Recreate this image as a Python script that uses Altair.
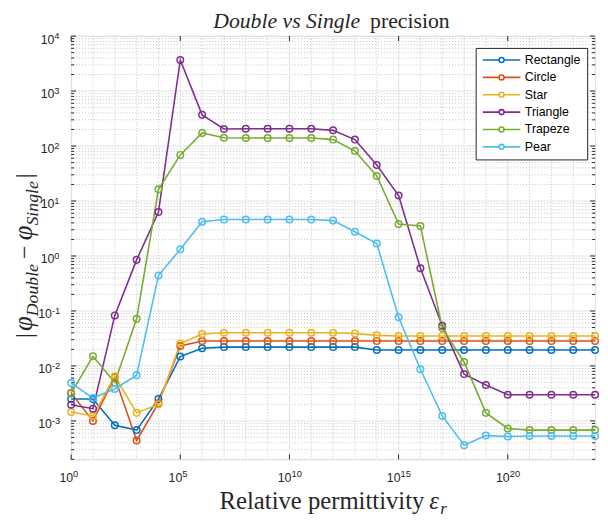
import altair as alt
import pandas as pd

# ---------------- data ----------------
exponents = list(range(25))  # epsilon_r = 10^0 ... 10^24

rectangle = [2.5e-3, 2.5e-3, 8.3e-4, 6.8e-4, 2.5e-3, 0.0148, 0.021, 0.022, 0.022, 0.022,
             0.022, 0.022, 0.022, 0.022, 0.0195, 0.0195, 0.0195, 0.0195, 0.0195, 0.0195,
             0.0195, 0.0195, 0.0195, 0.0195, 0.0195]
circle = [3.2e-3, 1.0e-3, 6.2e-3, 4.4e-4, 2.1e-3, 0.023, 0.0285, 0.0285, 0.0285, 0.0285,
          0.0285, 0.0285, 0.0285, 0.0285, 0.0285, 0.0285, 0.0285, 0.0285, 0.0285, 0.0285,
          0.0285, 0.0285, 0.0285, 0.0285, 0.0285]
star = [1.45e-3, 1.23e-3, 6.5e-3, 1.4e-3, 2.0e-3, 0.0256, 0.038, 0.040, 0.040, 0.040,
        0.040, 0.040, 0.040, 0.039, 0.036, 0.035, 0.035, 0.035, 0.035, 0.035,
        0.035, 0.035, 0.035, 0.035, 0.035]
triangle = [1.96e-3, 1.67e-3, 0.083, 0.85, 6.3, 3680, 369, 204, 207, 207,
            207, 207, 193, 131, 45, 12.6, 0.60, 0.054, 7.1e-3, 4.5e-3,
            3.0e-3, 3.0e-3, 3.0e-3, 3.0e-3, 3.0e-3]
trapeze = [3.2e-3, 0.015, 5.0e-3, 0.072, 16.3, 69, 173, 142, 140, 140,
           140, 140, 131, 81, 28.5, 3.8, 3.5, 0.049, 0.0118, 1.4e-3,
           7.3e-4, 6.8e-4, 6.8e-4, 6.8e-4, 6.8e-4]
pear = [4.9e-3, 2.6e-3, 3.8e-3, 6.8e-3, 0.44, 1.33, 4.2, 4.6, 4.6, 4.6,
        4.6, 4.6, 4.4, 2.76, 1.68, 0.077, 8.7e-3, 1.23e-3, 3.6e-4, 5.4e-4,
        5.2e-4, 5.3e-4, 5.3e-4, 5.3e-4, 5.3e-4]

shapes = ["Rectangle", "Circle", "Star", "Triangle", "Trapeze", "Pear"]
colors = ["#0072BD", "#D95319", "#EDB120", "#7E2F8E", "#77AC30", "#4DBEEE"]
series = [rectangle, circle, star, triangle, trapeze, pear]

x_major_exp = [0, 5, 10, 15, 20]
y_major_exp = [-3, -2, -1, 0, 1, 2, 3, 4]

rows = []
for name, vals in zip(shapes, series):
    for e, v in zip(exponents, vals):
        rows.append({"eps": 10.0 ** e, "val": v, "shape": name})
df = pd.DataFrame(rows)

# ---------------- layout ----------------
W, H = 531, 429
FRAME = "#262626"
xs = alt.Scale(type="log", domain=[1, 1e24], nice=False)
ys = alt.Scale(type="log", domain=[10 ** -3.7, 1e4], nice=False)

x_minor = [10.0 ** e for e in range(1, 24) if e % 5 != 0]
x_major = [10.0 ** e for e in x_major_exp]
y_major = [10.0 ** e for e in y_major_exp]
y_minor = [m * 10.0 ** e for e in range(-4, 4) for m in range(2, 10)
           if 10 ** -3.7 < m * 10.0 ** e < 1e4]


def hrules(vals, color, width=1.0, dash=None, x0=None, x1=None):
    kw = dict(color=color, strokeWidth=width)
    if dash:
        kw["strokeDash"] = dash
    enc = dict(y=alt.Y("v:Q", scale=ys, axis=None))
    if x0 is not None:
        enc["x"] = alt.value(x0)
        enc["x2"] = alt.value(x1)
    return alt.Chart(pd.DataFrame({"v": vals})).mark_rule(**kw).encode(**enc)


def vrules(vals, color, width=1.0, dash=None, y0=None, y1=None):
    kw = dict(color=color, strokeWidth=width)
    if dash:
        kw["strokeDash"] = dash
    enc = dict(x=alt.X("v:Q", scale=xs, axis=None))
    if y0 is not None:
        enc["y"] = alt.value(y0)
        enc["y2"] = alt.value(y1)
    return alt.Chart(pd.DataFrame({"v": vals})).mark_rule(**kw).encode(**enc)


one = pd.DataFrame({"a": [0]})


def txt(s, x, y, size, italic=False, angle=0, align="left", font="Liberation Serif"):
    kw = dict(text=s, font=font, fontSize=size, align=align, baseline="alphabetic",
              color="#262626")
    if italic:
        kw["fontStyle"] = "italic"
    if angle:
        kw["angle"] = angle
    return alt.Chart(one).mark_text(**kw).encode(x=alt.value(x), y=alt.value(y))


SANS = "Liberation Sans"


def x_tick_labels():
    d = pd.DataFrame({"v": x_major, "e": [str(e) for e in x_major_exp]})
    base = alt.Chart(d).mark_text(text="10", font=SANS, fontSize=12.5, align="right",
                                  baseline="alphabetic", dx=2, color=FRAME).encode(
        x=alt.X("v:Q", scale=xs, axis=None), y=alt.value(H + 23))
    sup = alt.Chart(d).mark_text(font=SANS, fontSize=9.5, align="left",
                                 baseline="alphabetic", dx=2, color=FRAME).encode(
        x=alt.X("v:Q", scale=xs, axis=None), y=alt.value(H + 18), text="e:N")
    return [base, sup]


def y_tick_labels(exps, split):
    d = pd.DataFrame({"v": [10.0 ** e for e in exps], "e": [str(e) for e in exps]})
    base = alt.Chart(d).mark_text(text="10", font=SANS, fontSize=12.5, align="right",
                                  baseline="alphabetic", dy=7.5, color=FRAME).encode(
        y=alt.Y("v:Q", scale=ys, axis=None), x=alt.value(split))
    sup = alt.Chart(d).mark_text(font=SANS, fontSize=9.5, align="left",
                                 baseline="alphabetic", dy=3, color=FRAME).encode(
        y=alt.Y("v:Q", scale=ys, axis=None), x=alt.value(split), text="e:N")
    return [base, sup]


grid_col = "#e2e2e2"
minor_col = "#c4c4c4"

layers = [
    hrules(y_minor, minor_col, 1, [1, 2]),
    vrules(x_minor, minor_col, 1, [1, 2]),
    hrules(y_major, grid_col, 1),
    vrules(x_major, grid_col, 1),
    # inward ticks
    hrules(y_major, FRAME, 1, None, 0, 5),
    hrules(y_major, FRAME, 1, None, W - 5, W),
    hrules(y_minor, FRAME, 1, None, 0, 3),
    hrules(y_minor, FRAME, 1, None, W - 3, W),
    vrules(x_major, FRAME, 1, None, H - 5, H),
    vrules(x_major, FRAME, 1, None, 0, 5),
]

path = "M-1,0H2.3M3.3,0H6.6M3.3,0A0.5,0.5,0,1,1,2.3,0A0.5,0.5,0,1,1,3.3,0"

lines = alt.Chart(df).mark_line(
    strokeWidth=1.6,
    point=alt.OverlayMarkDef(filled=False, size=44, strokeWidth=1.5),
).encode(
    x=alt.X("eps:Q", scale=xs, axis=None),
    y=alt.Y("val:Q", scale=ys, axis=None),
    color=alt.Color("shape:N", scale=alt.Scale(domain=shapes, range=colors),
                    sort=shapes,
                    legend=alt.Legend(title=None, orient="none", legendX=410, legendY=12,
                                      symbolType=path, symbolSize=100,
                                      symbolStrokeWidth=1.6, symbolFillColor="transparent",
                                      labelFont=SANS, labelFontSize=12.5,
                                      labelColor="#000000", labelOffset=31.3,
                                      rowPadding=4.6, padding=6, fillColor="white",
                                      strokeColor=FRAME)),
    detail="shape:N",
)
layers.append(lines)

layers += x_tick_labels()
layers += y_tick_labels([e for e in y_major_exp if e < 0], -19.5)
layers += y_tick_labels([e for e in y_major_exp if e >= 0], -17)

# title: Double vs Single precision
layers.append(txt("Double vs Single", 293, -8, 22, italic=True, align="right"))
layers.append(txt("precision", 303, -8, 22))
# x-axis title: Relative permittivity eps_r
layers.append(txt("Relative permittivity", 358, 479, 25, align="right"))
layers.append(txt("ε", 363, 479, 25, italic=True))
layers.append(txt("r", 374, 484, 17, italic=True))
# y-axis title: |phi_Double - phi_Single|
layers.append(txt("|", -40, 306, 24, angle=270))
layers.append(txt("φ", -40, 299, 27, italic=True, angle=270))
layers.append(txt("Double", -34, 284, 18, italic=True, angle=270))
layers.append(txt("−", -40, 226, 24, angle=270))
layers.append(txt("φ", -40, 207, 27, italic=True, angle=270))
layers.append(txt("Single", -34, 192, 18, italic=True, angle=270))
layers.append(txt("|", -40, 144, 24, angle=270))

chart = alt.layer(*layers).properties(
    width=W, height=H,
    autosize=alt.AutoSizeParams(type="none"),
    padding={"left": 64, "top": 25, "right": 5, "bottom": 61},
).configure_view(stroke=FRAME, strokeWidth=1).configure(background="white")

chart.save("out.html", embed_options={"renderer": "svg", "actions": False})
